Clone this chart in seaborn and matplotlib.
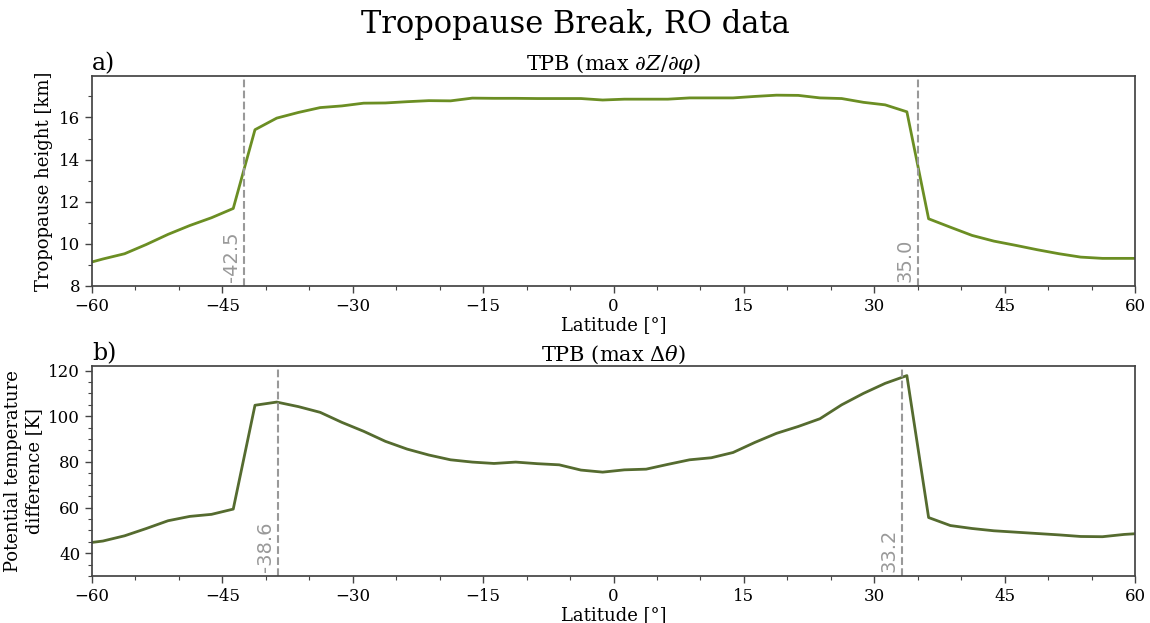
import numpy as np
import pandas as pd
import seaborn as sns
import matplotlib
matplotlib.use("Agg")
import matplotlib.pyplot as plt
from matplotlib.ticker import MultipleLocator

# Latitude bin centres (2.5 degree bins)
latitude = [-61.25, -58.75, -56.25, -53.75, -51.25, -48.75, -46.25, -43.75,
            -41.25, -38.75, -36.25, -33.75, -31.25, -28.75, -26.25, -23.75,
            -21.25, -18.75, -16.25, -13.75, -11.25, -8.75, -6.25, -3.75,
            -1.25, 1.25, 3.75, 6.25, 8.75, 11.25, 13.75, 16.25,
            18.75, 21.25, 23.75, 26.25, 28.75, 31.25, 33.75, 36.25,
            38.75, 41.25, 43.75, 46.25, 48.75, 51.25, 53.75, 56.25,
            58.75, 61.25]

# Tropopause height [km]
tp_height = [9.00, 9.28, 9.53, 9.97, 10.45, 10.87, 11.24, 11.68,
             15.42, 15.97, 16.24, 16.47, 16.55, 16.68, 16.69, 16.75,
             16.80, 16.79, 16.92, 16.91, 16.91, 16.90, 16.90, 16.90,
             16.83, 16.87, 16.87, 16.87, 16.93, 16.93, 16.93, 17.00,
             17.06, 17.05, 16.93, 16.90, 16.72, 16.60, 16.27, 11.19,
             10.79, 10.40, 10.13, 9.93, 9.72, 9.53, 9.37, 9.31,
             9.31, 9.31]

# Potential temperature difference [K]
theta_diff = [44.1, 45.3, 47.6, 50.8, 54.2, 56.1, 57.0, 59.3,
              104.8, 106.2, 104.2, 101.7, 97.3, 93.4, 89.0, 85.6,
              83.0, 80.9, 79.9, 79.3, 79.9, 79.2, 78.7, 76.4,
              75.5, 76.5, 76.8, 78.9, 80.9, 81.8, 84.1, 88.5,
              92.5, 95.5, 98.9, 105.0, 110.0, 114.4, 117.8, 55.6,
              52.1, 50.8, 49.8, 49.2, 48.6, 48.0, 47.3, 47.2,
              48.2, 48.8]

# Break latitudes
tpb_height = [-42.5, 35.0]
tpb_theta = [-38.6, 33.2]

xticks = [-60, -45, -30, -15, 0, 15, 30, 45, 60]

sns.set_theme(style="ticks")
plt.rcParams["font.family"] = ["DejaVu Serif"]
plt.rcParams["mathtext.fontset"] = "dejavuserif"
plt.rcParams["text.color"] = "black"
plt.rcParams["axes.labelcolor"] = "black"
plt.rcParams["axes.titlecolor"] = "black"
plt.rcParams["axes.edgecolor"] = "#444444"
plt.rcParams["xtick.color"] = "#444444"
plt.rcParams["ytick.color"] = "#444444"
plt.rcParams["xtick.labelcolor"] = "black"
plt.rcParams["ytick.labelcolor"] = "black"

df = pd.DataFrame({"lat": latitude, "height": tp_height, "theta": theta_diff})

fig = plt.figure(figsize=(11.5, 6.23), dpi=100)
ax1 = fig.add_axes([0.080, 0.541, 0.907, 0.337])
ax2 = fig.add_axes([0.080, 0.0755, 0.907, 0.337])

panels = [
    (ax1, "height", "#6b8e23", tpb_height, (8, 17.97), 2, 1,
     "Tropopause height [km]", "a)", r"TPB (max $\partial Z/\partial\varphi$)"),
    (ax2, "theta", "#556b2f", tpb_theta, (30, 122), 20, 5,
     "Potential temperature\ndifference [K]", "b)", r"TPB (max $\Delta\theta$)"),
]

for ax, col, color, breaks, ylim, ymaj, ymin, ylabel, tag, title in panels:
    sns.lineplot(data=df, x="lat", y=col, ax=ax, color=color, linewidth=2)
    ax.set_xlim(-60, 60)
    ax.set_ylim(*ylim)
    ax.set_xticks(xticks)
    ax.xaxis.set_minor_locator(MultipleLocator(5))
    ax.yaxis.set_major_locator(MultipleLocator(ymaj))
    ax.yaxis.set_minor_locator(MultipleLocator(ymin))
    ax.tick_params(axis="both", which="major", labelsize=12, length=5, width=1)
    ax.tick_params(axis="both", which="minor", length=3, width=0.8)
    ax.set_xlabel("Latitude [°]", fontsize=13, labelpad=1)
    ax.set_ylabel(ylabel, fontsize=13)
    ax.set_title(title, fontsize=15, pad=6)
    ax.set_title(tag, loc="left", fontsize=17, pad=4)
    for b in breaks:
        ax.axvline(b, color="#999999", linestyle="--", linewidth=1.5)
        ax.text(b - 0.4, ylim[0] + 0.02 * (ylim[1] - ylim[0]), f"{b:.1f}",
                rotation=90, ha="right", va="bottom", color="#999999",
                fontsize=14, family=["DejaVu Sans"])

fig.suptitle("Tropopause Break, RO data", fontsize=22, y=0.985)

fig.savefig("out.png", dpi=100)
